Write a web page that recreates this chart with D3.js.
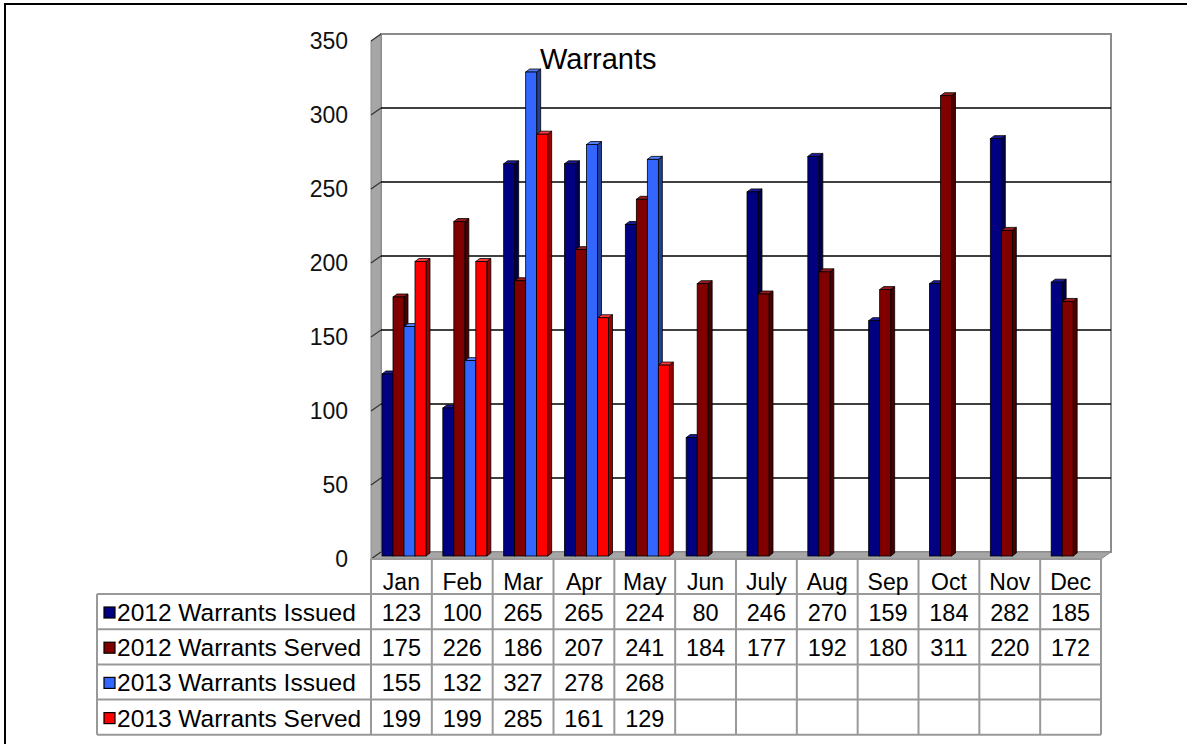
<!DOCTYPE html>
<html>
<head>
<meta charset="utf-8">
<script src="https://cdn.jsdelivr.net/npm/d3@7"></script>
<style>
  body { margin: 0; background: #fff; }
  svg { display: block; font-family: "Liberation Sans", Arial, sans-serif; }
</style>
</head>
<body>
<svg width="1187" height="744"></svg>
<script>
const months = ['Jan', 'Feb', 'Mar', 'Apr', 'May', 'Jun', 'July', 'Aug', 'Sep', 'Oct', 'Nov', 'Dec'];
const seriesNames = ['2012 Warrants Issued', '2012 Warrants Served', '2013 Warrants Issued', '2013 Warrants Served'];
const issued2012 = [123, 100, 265, 265, 224, 80, 246, 270, 159, 184, 282, 185];
const served2012 = [175, 226, 186, 207, 241, 184, 177, 192, 180, 311, 220, 172];
const issued2013 = [155, 132, 327, 278, 268, null, null, null, null, null, null, null];
const served2013 = [199, 199, 285, 161, 129, null, null, null, null, null, null, null];
const yTicks = [0, 50, 100, 150, 200, 250, 300, 350];

const seriesValues = [issued2012, served2012, issued2013, served2013];
const frontCol = ['#000080', '#800000', '#3366ff', '#ff0000'];
const sideCol = ['#00004a', '#4a0000', '#1f3f99', '#990000'];
const topCol = ['#1a1a9a', '#9a1a1a', '#5580ff', '#ff3a3a'];

const svg = d3.select('svg');

// outer frame
svg.append('rect').attr('x', 5).attr('y', 4).attr('width', 1200).attr('height', 760)
  .attr('fill', 'none').attr('stroke', '#000').attr('stroke-width', 2);

// plot geometry: front plane and back wall
const left = 371, right = 1101;
const dX = 10, dY = 7;            // wall depth offset
const bdX = 4, bdY = 3;           // bar depth offset
const floorFront = 559;

const x = d3.scaleBand().domain(months).range([left, right]);
const inner = d3.scaleBand().domain(seriesNames).range([0, 44]);
const yFront = d3.scaleLinear().domain([0, 350]).range([floorFront, floorFront - 518]);
const yBack = d3.scaleLinear().domain([0, 350]).range([floorFront - dY, floorFront - dY - 518]);
const yBar = d3.scaleLinear().domain([0, 350]).range([556, 38]);

// back wall
svg.append('rect').attr('x', left + dX).attr('y', yBack(350))
  .attr('width', right - left).attr('height', yBack(0) - yBack(350))
  .attr('fill', '#fff').attr('stroke', '#8c8c8c').attr('stroke-width', 2);

// left wall
svg.append('polygon')
  .attr('points', [[left, yFront(350)], [left + dX, yBack(350)], [left + dX, yBack(0)], [left, yFront(0)]].join(' '))
  .attr('fill', '#a6a6a6').attr('stroke', '#8c8c8c').attr('stroke-width', 1);

// floor
svg.append('polygon')
  .attr('points', [[left, yFront(0)], [left + dX, yBack(0)], [right + dX, yBack(0)], [right, yFront(0)]].join(' '))
  .attr('fill', '#a6a6a6').attr('stroke', '#8c8c8c').attr('stroke-width', 1);

// gridlines
const grid = svg.append('g');
grid.selectAll('line.g').data(yTicks.filter(t => t > 0 && t < 350)).enter().append('line')
  .attr('x1', left + dX).attr('x2', right + dX)
  .attr('y1', d => yBack(d)).attr('y2', d => yBack(d))
  .attr('stroke', '#000').attr('stroke-width', 1.6);
grid.selectAll('line.t').data(yTicks).enter().append('line')
  .attr('x1', left).attr('x2', left + dX)
  .attr('y1', d => yFront(d)).attr('y2', d => yBack(d))
  .attr('stroke', '#333').attr('stroke-width', 1.2);

// y labels
svg.append('g').selectAll('text').data(yTicks).enter().append('text')
  .attr('x', 348).attr('y', d => yFront(d) + 8)
  .attr('text-anchor', 'end').attr('font-size', 23).attr('fill', '#111')
  .text(d => d);

// bars
const bars = [];
months.forEach((m, mi) => {
  seriesNames.forEach((s, si) => {
    const v = seriesValues[si][mi];
    if (v != null) bars.push({ m, s, si, v });
  });
});

const w = inner.bandwidth();
const barG = svg.append('g').selectAll('g').data(bars).enter().append('g');
barG.each(function (d) {
  const g = d3.select(this);
  const x0 = x(d.m) + 11 + inner(d.s);
  const top = yBar(d.v), bot = yBar(0);
  g.append('polygon')
    .attr('points', [[x0 + w, top], [x0 + w + bdX, top - bdY], [x0 + w + bdX, bot - bdY], [x0 + w, bot]].join(' '))
    .attr('fill', sideCol[d.si]).attr('stroke', '#000').attr('stroke-width', 0.8);
  g.append('polygon')
    .attr('points', [[x0, top], [x0 + bdX, top - bdY], [x0 + w + bdX, top - bdY], [x0 + w, top]].join(' '))
    .attr('fill', topCol[d.si]).attr('stroke', '#000').attr('stroke-width', 0.8);
  g.append('rect').attr('x', x0).attr('y', top).attr('width', w).attr('height', bot - top)
    .attr('fill', frontCol[d.si]).attr('stroke', '#000').attr('stroke-width', 0.8);
});

// title
svg.append('text').attr('x', 540).attr('y', 69).attr('font-size', 29).attr('fill', '#000').text('Warrants');

// data table
const rowH = 35.2;
const rowTop = i => 594 + i * rowH;
const table = svg.append('g').attr('stroke', '#999').attr('stroke-width', 2);
table.append('line').attr('x1', left).attr('x2', right).attr('y1', floorFront).attr('y2', floorFront);
table.selectAll('line.h').data(d3.range(5)).enter().append('line')
  .attr('x1', 97).attr('x2', right).attr('y1', d => rowTop(d)).attr('y2', d => rowTop(d));
table.selectAll('line.v').data(months.map(m => x(m)).concat([right])).enter().append('line')
  .attr('x1', d => d).attr('x2', d => d).attr('y1', floorFront).attr('y2', rowTop(4));
table.append('line').attr('x1', 97).attr('x2', 97).attr('y1', rowTop(0)).attr('y2', rowTop(4));

// month header
svg.append('g').selectAll('text').data(months).enter().append('text')
  .attr('x', d => x(d) + x.bandwidth() / 2).attr('y', 590)
  .attr('text-anchor', 'middle').attr('font-size', 23).attr('fill', '#000')
  .text(d => d);

// legend column
const leg = svg.append('g').selectAll('g').data(seriesNames).enter().append('g');
leg.append('rect').attr('x', 104).attr('y', (d, i) => rowTop(i) + 13).attr('width', 11).attr('height', 11)
  .attr('fill', (d, i) => frontCol[i]).attr('stroke', '#000').attr('stroke-width', 1.2);
leg.append('text').attr('x', 117).attr('y', (d, i) => rowTop(i) + 27)
  .attr('font-size', 24.5).attr('fill', '#000').text(d => d);

// values
seriesValues.forEach((vals, si) => {
  svg.append('g').selectAll('text').data(vals.map((v, i) => ({ v, m: months[i] })).filter(d => d.v != null))
    .enter().append('text')
    .attr('x', d => x(d.m) + x.bandwidth() / 2).attr('y', rowTop(si) + 27)
    .attr('text-anchor', 'middle').attr('font-size', 23.5).attr('fill', '#000')
    .text(d => d.v);
});
</script>
</body>
</html>
